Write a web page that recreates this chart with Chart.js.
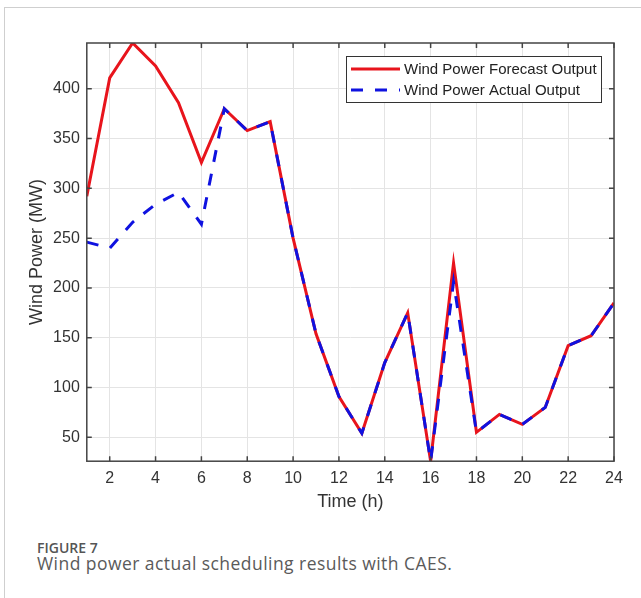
<!DOCTYPE html>
<html>
<head>
<meta charset="utf-8">
<script src="https://cdn.jsdelivr.net/npm/chart.js@4"></script>
<style>
  html, body { margin: 0; padding: 0; background: #fff; }
  body { width: 641px; height: 598px; position: relative; overflow: hidden; }
  .frame { position: absolute; left: 4px; top: 7px; right: -10px; bottom: -10px;
           border-left: 1px solid #cfcfcf; border-top: 1px solid #cfcfcf; }
  #chart { position: absolute; left: 0; top: 0; }
  .fig-num { position: absolute; left: 37px; top: 538px; font-family: 'Open Sans', 'Noto Sans', sans-serif;
             font-size: 14px; font-weight: 600; color: #555; }
  .fig-cap { position: absolute; left: 37px; top: 551px; font-family: 'Open Sans', 'Noto Sans', sans-serif;
             font-size: 17.5px; letter-spacing: 0.45px; color: #5a5a5a; white-space: nowrap; }
</style>
</head>
<body>
<div class="frame"></div>
<canvas id="chart" width="641" height="522"></canvas>
<div class="fig-num">FIGURE 7</div>
<div class="fig-cap">Wind power actual scheduling results with CAES.</div>
<script>
// Horas del día y potencia eólica (MW)
var hours = [1, 2, 3, 4, 5, 6, 7, 8, 9, 10, 11, 12, 13, 14, 15, 16, 17, 18, 19, 20, 21, 22, 23, 24];
var forecastOutput = [292, 411, 446, 423, 386, 326, 380, 358, 367, 250, 154, 91, 54, 125, 175, 26, 225, 55, 73, 63, 80, 142, 152, 185];
var actualOutput = [246, 240, 266, 284, 296, 264, 380, 358, 367, 250, 154, 91, 54, 125, 175, 26, 206, 55, 73, 63, 80, 142, 152, 185];
var xTicks = [2, 4, 6, 8, 10, 12, 14, 16, 18, 20, 22, 24];
var yTicks = [50, 100, 150, 200, 250, 300, 350, 400];

var fontFamily = "'Liberation Sans', Arial, sans-serif";
var textColor = '#333';

function toPoints(values) {
    return hours.map(function(h, i) { return { x: h, y: values[i] }; });
}

// Caja del eje con marcas hacia dentro (estilo MATLAB)
var boxPlugin = {
    id: 'boxPlugin',
    afterDatasetsDraw: function(chart) {
        var ctx = chart.ctx, a = chart.chartArea;
        var xs = chart.scales.x, ys = chart.scales.y;
        ctx.save();
        ctx.strokeStyle = '#444';
        ctx.lineWidth = 1.5;
        ctx.strokeRect(a.left, a.top, a.right - a.left, a.bottom - a.top);
        ctx.beginPath();
        xTicks.forEach(function(t) {
            var px = xs.getPixelForValue(t);
            ctx.moveTo(px, a.bottom); ctx.lineTo(px, a.bottom - 5);
            ctx.moveTo(px, a.top); ctx.lineTo(px, a.top + 5);
        });
        yTicks.forEach(function(t) {
            var py = ys.getPixelForValue(t);
            ctx.moveTo(a.left, py); ctx.lineTo(a.left + 5, py);
            ctx.moveTo(a.right, py); ctx.lineTo(a.right - 5, py);
        });
        ctx.stroke();
        ctx.restore();
    }
};

// Leyenda dentro del área de la gráfica, arriba a la derecha
var legendPlugin = {
    id: 'legendPlugin',
    afterDraw: function(chart) {
        var ctx = chart.ctx, a = chart.chartArea;
        var boxRight = a.right - 13, boxTop = a.top + 13;
        var boxW = 255, boxH = 46;
        var boxLeft = boxRight - boxW;
        ctx.save();
        ctx.fillStyle = '#fff';
        ctx.fillRect(boxLeft, boxTop, boxW, boxH);
        ctx.strokeStyle = '#333';
        ctx.lineWidth = 1;
        ctx.strokeRect(boxLeft + 0.5, boxTop + 0.5, boxW, boxH);
        ctx.font = '15px ' + fontFamily;
        ctx.textBaseline = 'middle';
        var rows = [chart.data.datasets[1], chart.data.datasets[0]];
        rows.forEach(function(ds, i) {
            var cy = boxTop + 13 + i * 21;
            ctx.beginPath();
            ctx.strokeStyle = ds.borderColor;
            ctx.lineWidth = 3;
            ctx.setLineDash(ds.borderDash || []);
            ctx.moveTo(boxLeft + 5, cy);
            ctx.lineTo(boxLeft + 54, cy);
            ctx.stroke();
            ctx.setLineDash([]);
            ctx.fillStyle = '#222';
            ctx.fillText(ds.label, boxLeft + 58, cy + 1);
        });
        ctx.restore();
    }
};

var ctx = document.getElementById('chart').getContext('2d');
var chart = new Chart(ctx, {
    type: 'line',
    data: {
        datasets: [
            {
                label: 'Wind Power Actual Output',
                data: toPoints(actualOutput),
                borderColor: '#0f12e0',
                borderWidth: 3,
                borderDash: [12, 12],
                pointRadius: 0,
                tension: 0,
                order: 0
            },
            {
                label: 'Wind Power Forecast Output',
                data: toPoints(forecastOutput),
                borderColor: '#e8141c',
                borderWidth: 3,
                pointRadius: 0,
                tension: 0,
                order: 1
            }
        ]
    },
    options: {
        responsive: false,
        animation: false,
        devicePixelRatio: 1,
        layout: { padding: { left: 22.5, top: 43, right: 27, bottom: 5 } },
        plugins: { legend: { display: false }, tooltip: { enabled: false } },
        scales: {
            x: {
                type: 'linear',
                min: 1,
                max: 24,
                afterBuildTicks: function(scale) {
                    scale.ticks = xTicks.map(function(v) { return { value: v }; });
                },
                grid: { color: '#e4e4e4', lineWidth: 1, drawTicks: false },
                border: { display: false },
                ticks: { padding: 8, color: textColor, font: { family: fontFamily, size: 16 }, maxRotation: 0 },
                title: { display: true, text: 'Time (h)', color: textColor,
                         padding: { top: -5, bottom: 4 }, font: { family: fontFamily, size: 18 } }
            },
            y: {
                min: 26,
                max: 446,
                afterBuildTicks: function(scale) {
                    scale.ticks = yTicks.map(function(v) { return { value: v }; });
                },
                grid: { color: '#e4e4e4', lineWidth: 1, drawTicks: false },
                border: { display: false },
                ticks: { padding: 7, color: textColor, font: { family: fontFamily, size: 16 } },
                title: { display: true, text: 'Wind Power (MW)', color: textColor,
                         padding: { top: 4, bottom: -2 }, font: { family: fontFamily, size: 18 } }
            }
        }
    },
    plugins: [boxPlugin, legendPlugin]
});
</script>
</body>
</html>
